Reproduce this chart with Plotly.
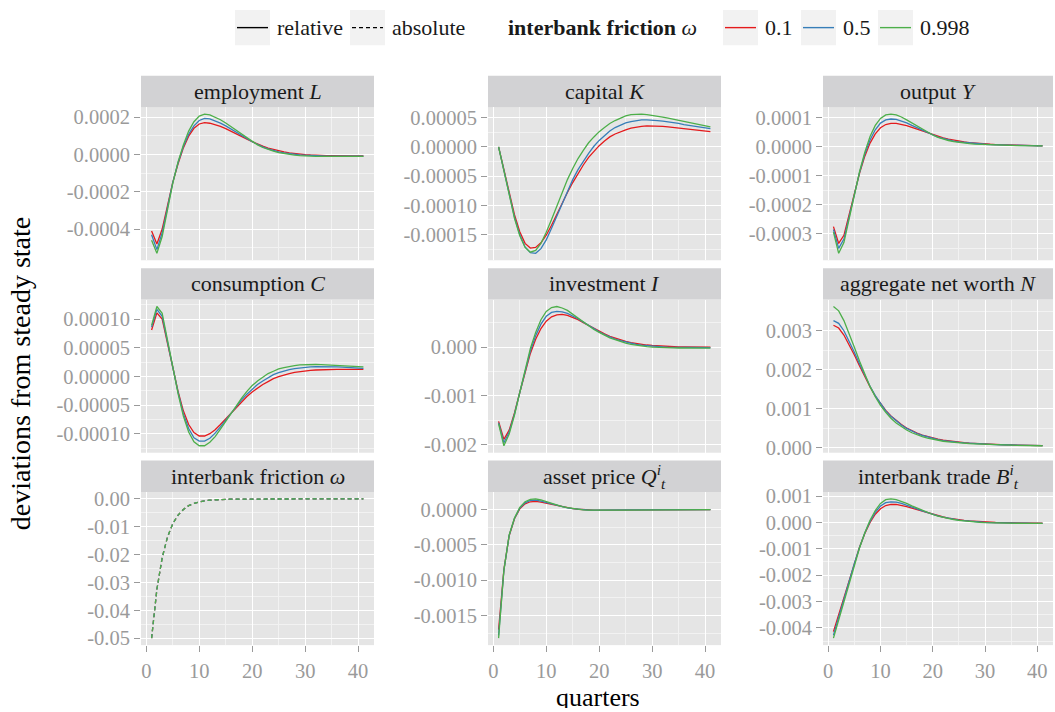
import plotly.graph_objects as go

# ---------------------------------------------------------------------------
# Impulse responses to an interbank-friction shock, quarters 1..41
# ---------------------------------------------------------------------------
quarters = list(range(1, 42))
omega_values = [0.1, 0.5, 0.998]
omega_labels = ["0.1", "0.5", "0.998"]
omega_colors = ["#E41A1C", "#377EB8", "#4DAF4A"]

# employment L, in units of 1e-5
L_01 = [-41, -48, -40, -27, -15, -5, 3.5, 9.8, 14, 16.3, 17.0, 16.7, 16.0, 15.0, 13.8, 12.5, 11.1, 9.7, 8.2, 6.8,
        5.5, 4.4, 3.4, 2.6, 1.9, 1.3, 0.8, 0.4, 0.1, -0.1, -0.3, -0.5, -0.6, -0.7, -0.7, -0.8, -0.8, -0.8, -0.8, -0.8, -0.8]
L_05 = [-43, -51, -42, -28.5, -15, -4.5, 4.2, 10.8, 15.3, 18.2, 19.3, 19.0, 18.1, 16.8, 15.3, 13.7, 12.0, 10.3, 8.5, 6.8,
        5.3, 4.0, 3.0, 2.1, 1.4, 0.8, 0.4, 0.0, -0.2, -0.4, -0.6, -0.7, -0.8, -0.9, -0.9, -0.9, -0.9, -0.9, -0.9, -0.9, -0.9]
L_0998 = [-46, -53, -44, -30, -15.5, -4, 5, 12.5, 17.5, 20.5, 21.6, 21.2, 20.1, 18.6, 16.8, 14.9, 12.9, 10.9, 8.8, 6.8,
          5.1, 3.7, 2.6, 1.7, 1.0, 0.4, 0.0, -0.4, -0.6, -0.8, -0.9, -1.0, -1.0, -1.1, -1.1, -1.1, -1.1, -1.1, -1.1, -1.1, -1.1]
L_ticks = ["-0.0004", "-0.0002", "0.0000", "0.0002"]

# capital K, in units of 1e-5
K_01 = [0, -3.9, -8.0, -11.6, -14.5, -16.5, -17.3, -17.2, -16.4, -15.1, -13.4, -11.5, -9.6, -7.8, -6.1, -4.5, -3.1, -1.8, -0.7, 0.2,
        1.0, 1.7, 2.2, 2.6, 2.9, 3.2, 3.4, 3.5, 3.6, 3.6, 3.6, 3.5, 3.4, 3.3, 3.2, 3.1, 3.0, 2.9, 2.8, 2.7, 2.6]
K_05 = [0, -4.1, -8.3, -12.0, -15.0, -17.1, -18.1, -18.2, -17.4, -15.9, -13.9, -11.8, -9.6, -7.5, -5.6, -3.9, -2.4, -1.1, 0.1, 1.1,
        1.9, 2.7, 3.3, 3.7, 4.1, 4.3, 4.5, 4.6, 4.6, 4.6, 4.5, 4.4, 4.3, 4.1, 4.0, 3.8, 3.65, 3.5, 3.35, 3.2, 3.1]
K_0998 = [0, -4.2, -8.5, -12.2, -15.2, -17.2, -18.0, -17.7, -16.5, -14.6, -12.4, -10.1, -7.8, -5.6, -3.7, -2.0, -0.6, 0.7, 1.7, 2.6,
          3.3, 4.0, 4.5, 4.9, 5.3, 5.5, 5.6, 5.6, 5.5, 5.4, 5.3, 5.1, 4.9, 4.7, 4.5, 4.3, 4.1, 3.9, 3.7, 3.55, 3.4]
K_ticks = ["-0.00015", "-0.00010", "-0.00005", "0.00000", "0.00005"]

# output Y, in units of 1e-5
Y_01 = [-27.5, -33.3, -30.5, -23.5, -16.0, -9.0, -3.2, 1.3, 4.5, 6.6, 7.7, 8.1, 8.1, 7.8, 7.3, 6.7, 6.1, 5.4, 4.8, 4.2,
        3.6, 3.1, 2.7, 2.3, 2.0, 1.7, 1.5, 1.3, 1.1, 1.0, 0.9, 0.8, 0.75, 0.7, 0.65, 0.6, 0.55, 0.5, 0.45, 0.4, 0.35]
Y_05 = [-28.5, -35.0, -31.8, -24.2, -16.2, -8.8, -2.5, 2.4, 5.9, 8.2, 9.3, 9.6, 9.5, 9.0, 8.3, 7.4, 6.6, 5.7, 4.9, 4.1,
        3.4, 2.9, 2.4, 2.0, 1.7, 1.5, 1.3, 1.1, 1.0, 0.9, 0.8, 0.72, 0.66, 0.6, 0.56, 0.52, 0.48, 0.45, 0.42, 0.38, 0.34]
Y_0998 = [-29.4, -36.7, -33.0, -25.0, -16.5, -8.5, -1.8, 3.6, 7.4, 9.8, 11.0, 11.3, 11.0, 10.3, 9.3, 8.2, 7.1, 6.0, 5.0, 4.1,
          3.3, 2.7, 2.2, 1.8, 1.5, 1.3, 1.1, 0.95, 0.85, 0.75, 0.7, 0.65, 0.6, 0.55, 0.5, 0.45, 0.42, 0.4, 0.37, 0.35, 0.33]
Y_ticks = ["-0.0003", "-0.0002", "-0.0001", "0.0000", "0.0001"]

# consumption C, in units of 1e-5
C_01 = [8.1, 11.1, 10.0, 6.0, 1.6, -2.6, -6.0, -8.4, -9.8, -10.4, -10.4, -10.0, -9.3, -8.4, -7.4, -6.4, -5.4, -4.4, -3.5, -2.7,
        -2.0, -1.4, -0.9, -0.4, -0.05, 0.25, 0.5, 0.7, 0.85, 0.97, 1.05, 1.12, 1.17, 1.2, 1.22, 1.23, 1.24, 1.24, 1.24, 1.23, 1.22]
C_05 = [8.6, 11.7, 10.5, 6.3, 1.6, -2.8, -6.5, -9.1, -10.7, -11.3, -11.3, -10.8, -9.9, -8.8, -7.6, -6.4, -5.2, -4.1, -3.1, -2.2,
        -1.4, -0.8, -0.2, 0.3, 0.65, 0.95, 1.2, 1.38, 1.5, 1.6, 1.66, 1.7, 1.72, 1.72, 1.7, 1.67, 1.63, 1.58, 1.53, 1.48, 1.42]
C_0998 = [8.9, 12.2, 11.0, 6.6, 1.7, -3.0, -6.9, -9.7, -11.4, -12.1, -12.1, -11.5, -10.5, -9.2, -7.8, -6.4, -5.0, -3.8, -2.6, -1.6,
          -0.8, -0.1, 0.5, 0.9, 1.3, 1.55, 1.75, 1.9, 2.0, 2.05, 2.08, 2.08, 2.06, 2.02, 1.98, 1.93, 1.88, 1.82, 1.76, 1.7, 1.65]
C_ticks = ["-0.00010", "-0.00005", "0.00000", "0.00005", "0.00010"]

# investment I, in units of 1e-4
I_01 = [-15.2, -18.9, -17.0, -13.5, -9.3, -5.0, -1.3, 1.6, 3.8, 5.3, 6.2, 6.6, 6.7, 6.5, 6.1, 5.6, 5.0, 4.4, 3.8, 3.2,
        2.7, 2.2, 1.8, 1.45, 1.15, 0.9, 0.7, 0.55, 0.42, 0.32, 0.24, 0.18, 0.13, 0.09, 0.06, 0.04, 0.02, 0.0, -0.01, -0.02, -0.03]
I_05 = [-15.5, -19.6, -17.4, -13.7, -9.3, -4.8, -0.8, 2.3, 4.7, 6.3, 7.1, 7.3, 7.2, 6.9, 6.4, 5.8, 5.1, 4.4, 3.7, 3.1,
        2.55, 2.05, 1.65, 1.3, 1.0, 0.75, 0.55, 0.38, 0.26, 0.16, 0.08, 0.02, -0.02, -0.05, -0.07, -0.09, -0.1, -0.1, -0.11, -0.11, -0.11]
I_0998 = [-15.7, -20.2, -17.8, -13.9, -9.3, -4.5, -0.3, 3.0, 5.6, 7.3, 8.1, 8.3, 8.0, 7.5, 6.7, 5.9, 5.1, 4.3, 3.6, 3.0,
          2.4, 1.9, 1.5, 1.1, 0.8, 0.55, 0.35, 0.2, 0.08, -0.01, -0.08, -0.13, -0.16, -0.18, -0.19, -0.2, -0.2, -0.2, -0.2, -0.2, -0.2]
I_ticks = ["-0.002", "-0.001", "0.000"]

# aggregate net worth N, in units of 1e-4
N_01 = [31.4, 30.7, 28.9, 26.5, 23.8, 21.0, 18.2, 15.6, 13.3, 11.3, 9.6, 8.2, 7.0, 6.0, 5.1, 4.4, 3.8, 3.3, 2.9, 2.55,
        2.25, 2.0, 1.8, 1.62, 1.47, 1.35, 1.25, 1.16, 1.08, 1.01, 0.95, 0.9, 0.85, 0.81, 0.77, 0.74, 0.71, 0.68, 0.65, 0.62, 0.6]
N_05 = [32.6, 31.9, 30.0, 27.4, 24.5, 21.5, 18.5, 15.8, 13.4, 11.3, 9.5, 8.1, 6.9, 5.9, 5.0, 4.3, 3.7, 3.2, 2.8, 2.45,
        2.15, 1.9, 1.7, 1.55, 1.42, 1.3, 1.2, 1.12, 1.05, 0.98, 0.93, 0.88, 0.83, 0.79, 0.75, 0.72, 0.69, 0.66, 0.63, 0.61, 0.59]
N_0998 = [36.2, 35.1, 32.6, 29.4, 25.8, 22.2, 18.8, 15.7, 13.1, 10.9, 9.1, 7.6, 6.4, 5.4, 4.6, 3.9, 3.35, 2.9, 2.5, 2.2,
          1.93, 1.72, 1.55, 1.4, 1.28, 1.18, 1.1, 1.03, 0.96, 0.91, 0.86, 0.82, 0.78, 0.74, 0.71, 0.68, 0.66, 0.63, 0.61, 0.59, 0.57]
N_ticks = ["0.000", "0.001", "0.002", "0.003"]

# interbank friction shock (absolute deviation), identical for every omega
W_path = [-0.05, -0.0325, -0.0211, -0.0137, -0.0089, -0.0058, -0.0038, -0.0024, -0.0016, -0.0010,
          -0.00067, -0.00043, -0.00028, -0.00018, -0.00012, -0.00008, -0.00005, -0.00003, -0.00002, -0.00001,
          0.0, 0.0, 0.0, 0.0, 0.0, 0.0, 0.0, 0.0, 0.0, 0.0, 0.0, 0.0, 0.0, 0.0, 0.0, 0.0, 0.0, 0.0, 0.0, 0.0, 0.0]
W_ticks = ["-0.05", "-0.04", "-0.03", "-0.02", "-0.01", "0.00"]

# asset price Q, in units of 1e-4
Q_01 = [-17.0, -8.5, -3.7, -1.3, 0.1, 0.8, 1.1, 1.15, 1.05, 0.9, 0.7, 0.52, 0.36, 0.23, 0.12, 0.04, -0.02, -0.06, -0.08, -0.09,
        -0.09, -0.09, -0.08, -0.07, -0.06, -0.05, -0.04, -0.04, -0.03, -0.03, -0.02, -0.02, -0.02, -0.01, -0.01, -0.01, -0.01, -0.01, -0.01, -0.01, -0.01]
Q_05 = [-17.8, -8.6, -3.65, -1.25, 0.2, 0.95, 1.3, 1.32, 1.2, 1.0, 0.78, 0.57, 0.39, 0.25, 0.13, 0.035, -0.03, -0.07, -0.09, -0.1,
        -0.1, -0.09, -0.085, -0.075, -0.065, -0.055, -0.045, -0.04, -0.03, -0.03, -0.02, -0.02, -0.02, -0.01, -0.01, -0.01, -0.01, -0.01, -0.01, -0.01, -0.01]
Q_0998 = [-18.2, -8.6, -3.6, -1.2, 0.3, 1.1, 1.45, 1.5, 1.35, 1.1, 0.85, 0.62, 0.42, 0.26, 0.13, 0.03, -0.04, -0.08, -0.1, -0.11,
          -0.11, -0.1, -0.09, -0.08, -0.07, -0.06, -0.05, -0.04, -0.03, -0.03, -0.02, -0.02, -0.02, -0.01, -0.01, -0.01, -0.01, -0.01, -0.01, -0.01, -0.01]
Q_ticks = ["-0.0015", "-0.0010", "-0.0005", "0.0000"]

# interbank trade B, in units of 1e-4
B_01 = [-41.4, -34.8, -28.2, -21.6, -15.2, -9.3, -4.2, 0.0, 3.1, 5.2, 6.4, 6.8, 6.8, 6.5, 6.0, 5.4, 4.8, 4.2, 3.6, 3.0,
        2.5, 2.05, 1.65, 1.3, 1.0, 0.75, 0.55, 0.38, 0.24, 0.13, 0.04, -0.03, -0.09, -0.14, -0.18, -0.21, -0.24, -0.26, -0.28, -0.29, -0.3]
B_05 = [-42.8, -35.9, -29.0, -22.2, -15.6, -9.4, -4.0, 0.4, 3.8, 6.2, 7.5, 7.8, 7.7, 7.2, 6.6, 5.9, 5.1, 4.35, 3.65, 3.0,
        2.45, 1.97, 1.55, 1.2, 0.9, 0.65, 0.45, 0.28, 0.15, 0.04, -0.05, -0.12, -0.17, -0.22, -0.25, -0.28, -0.3, -0.32, -0.33, -0.34, -0.35]
B_0998 = [-43.9, -36.9, -29.9, -22.9, -16.0, -9.6, -3.9, 0.8, 4.5, 7.2, 8.6, 8.9, 8.6, 8.0, 7.2, 6.3, 5.4, 4.5, 3.7, 3.0,
          2.4, 1.9, 1.45, 1.1, 0.8, 0.55, 0.35, 0.18, 0.05, -0.06, -0.14, -0.2, -0.25, -0.29, -0.32, -0.34, -0.36, -0.37, -0.38, -0.39, -0.4]
B_ticks = ["-0.004", "-0.003", "-0.002", "-0.001", "0.000", "0.001"]

x_ticks = ["0", "10", "20", "30", "40"]

panels = [
    dict(title="employment <i>L</i>", unit=1e-5, series=[L_01, L_05, L_0998], ticks=L_ticks, measure="relative"),
    dict(title="capital <i>K</i>", unit=1e-5, series=[K_01, K_05, K_0998], ticks=K_ticks, measure="relative"),
    dict(title="output <i>Y</i>", unit=1e-5, series=[Y_01, Y_05, Y_0998], ticks=Y_ticks, measure="relative"),
    dict(title="consumption <i>C</i>", unit=1e-5, series=[C_01, C_05, C_0998], ticks=C_ticks, measure="relative"),
    dict(title="investment <i>I</i>", unit=1e-4, series=[I_01, I_05, I_0998], ticks=I_ticks, measure="relative"),
    dict(title="aggregate net worth <i>N</i>", unit=1e-4, series=[N_01, N_05, N_0998], ticks=N_ticks, measure="relative"),
    dict(title="interbank friction <i>ω</i>", unit=1.0, series=[W_path, W_path, W_path], ticks=W_ticks, measure="absolute"),
    dict(title="asset price <i>Q</i><sup><i>i</i></sup><sub><i>t</i></sub>", unit=1e-4, series=[Q_01, Q_05, Q_0998], ticks=Q_ticks, measure="relative"),
    dict(title="interbank trade <i>B</i><sup><i>i</i></sup><sub><i>t</i></sub>", unit=1e-4, series=[B_01, B_05, B_0998], ticks=B_ticks, measure="relative"),
]

# ---------------------------------------------------------------------------
# Page geometry (pixels) and theme
# ---------------------------------------------------------------------------
W, H = 1055, 712
COLS = [(141, 374), (488, 721), (823, 1053)]
ROWS = [(70, 102, 258), (266, 298, 454), (462, 494, 650)]   # strip top, panel top, panel bottom

FONT = "Liberation Serif, DejaVu Serif, serif"
PANEL_BG = "#E5E5E5"
STRIP_BG = "#D2D2D4"
KEY_BG = "#F2F2F2"
TICK_GREY = "#9A9A9A"
DASH = "4px,3px"
LINE_TYPES = {"relative": "solid", "absolute": DASH}
TICK_SIZE = 20.5


def fx(p):
    return p / W


def fy(p):
    return 1 - p / H


fig = go.Figure()
shapes, annotations, axes = [], [], {}

for i, p in enumerate(panels):
    r, c = divmod(i, 3)
    k = i + 1
    xa, ya = ("x", "y") if k == 1 else (f"x{k}", f"y{k}")
    xkey, ykey = ("xaxis", "yaxis") if k == 1 else (f"xaxis{k}", f"yaxis{k}")
    vals = [[v * p["unit"] for v in s] for s in p["series"]]

    for s, col, om in zip(vals, omega_colors, omega_values):
        fig.add_trace(go.Scatter(
            x=quarters, y=s, mode="lines", name=f"ω = {om}",
            line=dict(color=col, width=1.3, dash=LINE_TYPES[p["measure"]]),
            xaxis=xa, yaxis=ya, showlegend=False, hoverinfo="skip"))

    lo = min(min(s) for s in vals)
    hi = max(max(s) for s in vals)
    pad = 0.05 * (hi - lo)
    yr = [lo - pad, hi + pad]
    tv = [float(t) for t in p["ticks"]]
    step = tv[1] - tv[0]
    minor_y = [tv[0] + step * (j + 0.5) for j in range(-1, len(tv))]
    minor_y = [m for m in minor_y if yr[0] <= m <= yr[1]]

    x0, x1 = COLS[c]
    st, pt, pb = ROWS[r]
    bottom = (r == 2)

    axes[xkey] = dict(
        domain=[fx(x0), fx(x1)], range=[-1, 43], anchor=ya,
        tickmode="array", tickvals=[float(t) for t in x_ticks], ticktext=x_ticks,
        showticklabels=bottom, ticks="outside" if bottom else "", ticklen=6, tickwidth=1,
        ticklabelstandoff=1,
        tickcolor=TICK_GREY, tickfont=dict(family=FONT, size=TICK_SIZE, color=TICK_GREY),
        showgrid=True, gridcolor="white", gridwidth=1.2, zeroline=False, showline=False,
        minor=dict(tickmode="array", tickvals=[5, 15, 25, 35], showgrid=True,
                   gridcolor="#F2F2F2", gridwidth=0.6, ticks=""),
        fixedrange=True)
    axes[ykey] = dict(
        domain=[fy(pb), fy(pt)], range=yr, anchor=xa,
        tickmode="array", tickvals=tv, ticktext=p["ticks"],
        ticks="outside", ticklen=6, tickwidth=1, tickcolor=TICK_GREY,
        tickfont=dict(family=FONT, size=TICK_SIZE, color=TICK_GREY),
        showgrid=True, gridcolor="white", gridwidth=1.2, zeroline=False, showline=False,
        minor=dict(tickmode="array", tickvals=minor_y, showgrid=True,
                   gridcolor="#F2F2F2", gridwidth=0.6, ticks=""),
        fixedrange=True)

    # facet strip
    shapes.append(dict(type="rect", xref="paper", yref="paper",
                       x0=fx(x0), x1=fx(x1), y0=fy(pt), y1=fy(st),
                       fillcolor=STRIP_BG, line=dict(width=0), layer="below"))
    annotations.append(dict(xref="paper", yref="paper", x=fx((x0 + x1) / 2), y=fy((st + pt) / 2),
                            text=p["title"], showarrow=False, xanchor="center", yanchor="middle",
                            font=dict(family=FONT, size=22, color="#1A1A1A")))

# axis titles
annotations.append(dict(xref="paper", yref="paper", x=fx(598), y=fy(703), text="quarters",
                        showarrow=False, xanchor="center", yanchor="middle", borderpad=0,
                        height=22, valign="middle",
                        font=dict(family=FONT, size=26, color="black")))
annotations.append(dict(xref="paper", yref="paper", x=fx(20), y=fy(374), text="deviations from steady state",
                        textangle=-90, showarrow=False, xanchor="center", yanchor="middle",
                        font=dict(family=FONT, size=28, color="black")))

# legend row across the top
KEY_TOP, KEY_BOT, KEY_MID = 3, 39, 21
KEY_W = 35


def legend_key(xl, color, dash, label):
    shapes.append(dict(type="rect", xref="paper", yref="paper", x0=fx(xl), x1=fx(xl + KEY_W),
                       y0=fy(KEY_BOT), y1=fy(KEY_TOP), fillcolor=KEY_BG, line=dict(width=0)))
    shapes.append(dict(type="line", xref="paper", yref="paper", x0=fx(xl + 2), x1=fx(xl + KEY_W - 2),
                       y0=fy(KEY_MID), y1=fy(KEY_MID), line=dict(color=color, width=1.4, dash=dash)))
    annotations.append(dict(xref="paper", yref="paper", x=fx(xl + KEY_W + 5), y=fy(KEY_MID), text=label,
                            showarrow=False, xanchor="left", yanchor="middle",
                            font=dict(family=FONT, size=22, color="#1A1A1A")))


legend_key(235, "black", "solid", "relative")
legend_key(350, "black", DASH, "absolute")
annotations.append(dict(xref="paper", yref="paper", x=fx(506), y=fy(KEY_MID),
                        text="<b>interbank friction</b> <i>ω</i>", showarrow=False,
                        xanchor="left", yanchor="middle", font=dict(family=FONT, size=22, color="#1A1A1A")))
for xl, col, lab in zip([723, 801, 878], omega_colors, omega_labels):
    legend_key(xl, col, "solid", lab)

fig.update_layout(
    width=W, height=H, autosize=False,
    margin=dict(l=0, r=0, t=0, b=0),
    paper_bgcolor="white", plot_bgcolor=PANEL_BG,
    font=dict(family=FONT, color="#1A1A1A"),
    shapes=shapes, annotations=annotations, showlegend=False,
    **axes)

fig.write_html("out.html")
